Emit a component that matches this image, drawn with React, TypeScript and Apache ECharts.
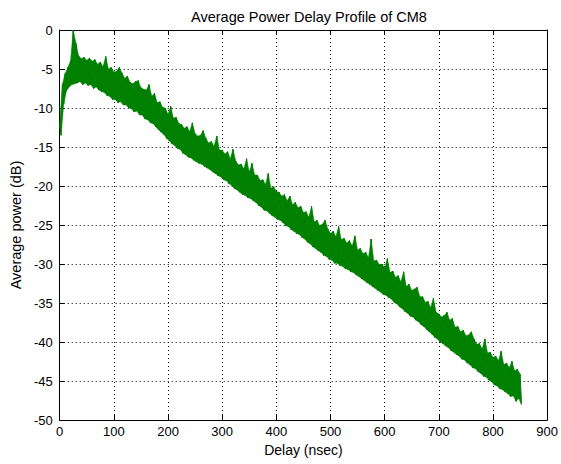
import React, { useEffect, useRef } from "react";
import * as echarts from "echarts";

// Delay grid (ns) for the envelope samples: every 5 ns from 0 to 850
const delayStartNs = 0;
const delayStepNs = 5;

// Upper edge of the noisy profile (dB), one value per 5 ns
const upperDb = [
  -12.0, -7.0, -5.6, -4.8, -4.0, 0.0, -1.7, -3.3, -3.7, -3.5,
  -3.9, -3.6, -4.0, -3.8, -4.4, -4.1, -4.7, -3.4, -5.0, -4.8,
  -5.4, -5.3, -4.8, -5.5, -6.2, -5.9, -6.7, -6.9, -6.6, -6.5,
  -7.4, -7.6, -7.7, -7.0, -8.5, -8.1, -9.3, -9.2, -9.9, -10.0,
  -10.8, -9.8, -11.3, -11.2, -12.0, -12.1, -12.6, -12.4, -13.0, -11.9,
  -13.3, -13.6, -13.5, -12.9, -13.9, -14.5, -14.3, -14.9, -13.6, -15.4,
  -15.4, -15.9, -15.6, -16.5, -15.3, -16.8, -17.3, -17.2, -17.8, -16.5,
  -18.2, -17.1, -18.6, -18.6, -19.3, -19.2, -19.8, -18.4, -20.3, -20.1,
  -20.7, -20.8, -21.3, -21.1, -21.9, -21.3, -22.4, -22.1, -22.8, -22.6,
  -23.4, -23.3, -24.0, -22.6, -24.6, -24.4, -25.1, -24.9, -24.4, -25.5,
  -26.1, -25.8, -26.5, -25.2, -26.9, -26.7, -27.3, -27.0, -27.7, -26.4,
  -28.2, -28.0, -28.7, -28.5, -29.2, -26.8, -29.6, -29.5, -30.1, -30.0,
  -30.5, -29.3, -31.1, -30.9, -31.7, -31.5, -32.3, -31.0, -32.9, -32.6,
  -33.4, -33.2, -33.0, -34.2, -34.2, -34.9, -34.8, -35.6, -34.4, -36.2,
  -36.4, -36.8, -36.6, -36.2, -37.2, -37.0, -38.1, -38.0, -38.7, -38.5,
  -39.2, -39.1, -38.7, -39.6, -40.3, -40.2, -40.9, -39.6, -41.4, -41.3,
  -42.0, -41.8, -42.4, -41.2, -42.9, -42.7, -43.3, -42.5, -43.7, -43.5,
  -44.1,
];

// Lower edge of the noisy profile (dB), one value per 5 ns
const lowerDb = [
  -13.5, -9.5, -7.8, -7.3, -7.0, -6.9, -6.8, -6.6, -7.0, -6.8,
  -7.1, -7.0, -7.5, -7.3, -7.7, -7.9, -8.0, -8.4, -8.5, -8.9,
  -8.9, -9.3, -9.2, -9.6, -9.6, -10.0, -10.1, -10.5, -10.4, -10.9,
  -10.9, -11.4, -11.5, -11.9, -12.0, -12.4, -12.8, -13.1, -13.4, -13.9,
  -14.2, -14.6, -14.8, -15.2, -15.3, -15.8, -16.0, -16.3, -16.4, -16.7,
  -16.9, -17.1, -17.2, -17.5, -17.7, -17.9, -18.2, -18.4, -18.7, -18.8,
  -19.2, -19.3, -19.7, -19.9, -20.3, -20.5, -20.8, -21.1, -21.2, -21.5,
  -21.6, -21.9, -22.1, -22.5, -22.7, -23.1, -23.2, -23.5, -23.8, -24.0,
  -24.3, -24.4, -24.7, -25.1, -25.2, -25.6, -25.8, -26.1, -26.2, -26.6,
  -26.8, -27.2, -27.4, -27.8, -28.0, -28.3, -28.5, -28.9, -29.0, -29.4,
  -29.5, -29.9, -29.9, -30.2, -30.3, -30.6, -30.7, -31.0, -31.1, -31.4,
  -31.6, -31.9, -32.1, -32.4, -32.6, -32.9, -33.1, -33.4, -33.6, -33.9,
  -34.0, -34.3, -34.5, -34.9, -35.1, -35.5, -35.7, -36.1, -36.3, -36.7,
  -36.8, -37.2, -37.4, -37.8, -38.0, -38.4, -38.7, -39.0, -39.4, -39.6,
  -40.0, -40.2, -40.5, -40.7, -41.1, -41.3, -41.6, -41.8, -42.2, -42.3,
  -42.7, -42.9, -43.3, -43.4, -43.8, -44.0, -44.4, -44.5, -44.9, -45.1,
  -45.5, -45.6, -46.0, -46.1, -46.4, -46.6, -47.0, -46.9, -47.6, -47.2,
  -48.0,
];

const xTicks = [0, 100, 200, 300, 400, 500, 600, 700, 800, 900];
const yTicks = [0, -5, -10, -15, -20, -25, -30, -35, -40, -45, -50];

const titleText = "Average Power Delay Profile of CM8";
const xLabel = "Delay (nsec)";
const yLabel = "Average power (dB)";

export default function App() {
  const ref = useRef<HTMLDivElement>(null);

  useEffect(() => {
    if (!ref.current) return;
    const chart = echarts.init(ref.current, undefined, { renderer: "svg" });

    const delays = upperDb.map((_, i) => delayStartNs + i * delayStepNs);
    const half = delayStepNs / 2;

    // zig-zag trace between the read upper and lower edges
    const trace: [number, number][] = [];
    upperDb.forEach((u, i) => {
      trace.push([delays[i], u]);
      trace.push([delays[i] + half, lowerDb[i]]);
    });

    // solid band segments between consecutive samples
    const bandSegments: number[][] = [];
    for (let i = 0; i < upperDb.length - 1; i++) {
      bandSegments.push([
        delays[i], upperDb[i], lowerDb[i],
        delays[i + 1], upperDb[i + 1], lowerDb[i + 1],
      ]);
    }

    const font = "'Liberation Sans', Arial, Helvetica, sans-serif";
    const xMin = xTicks[0];
    const xMax = xTicks[xTicks.length - 1];
    const yMin = yTicks[yTicks.length - 1];
    const yMax = yTicks[0];
    const xInt = xTicks[1] - xTicks[0];
    const yInt = yTicks[0] - yTicks[1];

    const baseAxis = {
      axisLine: { show: true, onZero: false, lineStyle: { color: "#000", width: 1 } },
      axisTick: { show: true, inside: true, length: 5, lineStyle: { color: "#000" } },
    };
    const green = "#008000";

    chart.setOption({
      animation: false,
      backgroundColor: "#fff",
      title: {
        text: titleText,
        left: 304,
        textAlign: "center",
        top: 4,
        textStyle: { fontFamily: font, fontSize: 14.5, fontWeight: "normal", color: "#000" },
      },
      grid: { left: 57, right: 11, top: 30, bottom: 44, containLabel: false },
      xAxis: [
        {
          ...baseAxis,
          type: "value",
          min: xMin,
          max: xMax,
          interval: xInt,
          position: "bottom",
          name: xLabel,
          nameLocation: "middle",
          nameGap: 18,
          nameTextStyle: { fontFamily: font, fontSize: 14, color: "#000" },
          axisLabel: { fontFamily: font, fontSize: 13, color: "#000", margin: 5 },
          splitLine: { show: true, lineStyle: { color: "#000", type: [1, 3], width: 1 } },
        },
        {
          ...baseAxis,
          type: "value",
          min: xMin,
          max: xMax,
          interval: xInt,
          position: "top",
          axisLabel: { show: false },
          splitLine: { show: false },
        },
      ],
      yAxis: [
        {
          ...baseAxis,
          type: "value",
          min: yMin,
          max: yMax,
          interval: yInt,
          position: "left",
          name: yLabel,
          nameLocation: "middle",
          nameGap: 32,
          nameRotate: 90,
          nameTextStyle: { fontFamily: font, fontSize: 14.5, color: "#000" },
          axisLabel: { fontFamily: font, fontSize: 13, color: "#000", margin: 7 },
          splitLine: { show: true, lineStyle: { color: "#000", type: [1, 3], width: 1 } },
        },
        {
          ...baseAxis,
          type: "value",
          min: yMin,
          max: yMax,
          interval: yInt,
          position: "right",
          axisLabel: { show: false },
          splitLine: { show: false },
        },
      ],
      series: [
        {
          type: "custom",
          data: bandSegments,
          encode: { x: [0, 3], y: [1, 2, 4, 5] },
          silent: true,
          z: 1,
          renderItem: (_params: any, api: any) => {
            const a = api.coord([api.value(0), api.value(1)]);
            const b = api.coord([api.value(3), api.value(4)]);
            const c = api.coord([api.value(3) + half, api.value(5)]);
            const d = api.coord([api.value(0) + half, api.value(2)]);
            return {
              type: "polygon",
              shape: { points: [a, b, c, d] },
              style: { fill: green, stroke: green, lineWidth: 0.5 },
            };
          },
        },
        {
          type: "line",
          data: trace,
          symbol: "none",
          lineStyle: { color: green, width: 1 },
          z: 2,
        },
      ],
    });

    return () => chart.dispose();
  }, []);

  return (
    <div
      ref={ref}
      style={{ position: "fixed", left: 0, top: 0, width: 561, height: 464, background: "#fff" }}
    />
  );
}
